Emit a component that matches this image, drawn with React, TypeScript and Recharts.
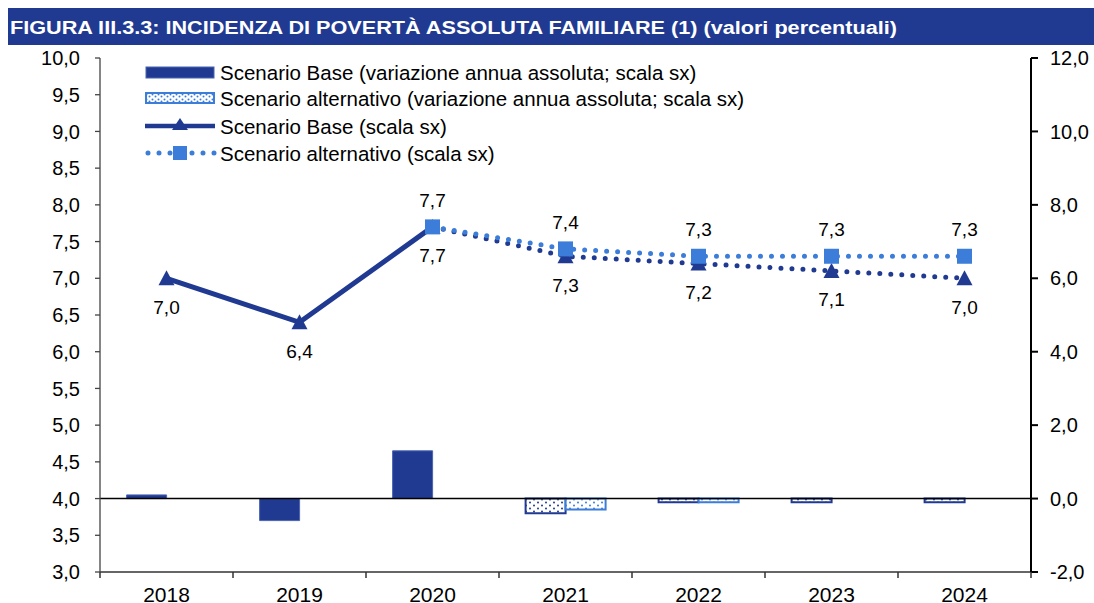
import React from 'react';
import {
    ComposedChart,
    Bar,
    Line,
    XAxis,
    YAxis,
    ReferenceLine,
    LabelList,
    Legend,
    Cell
} from 'recharts';

const years = ['2018', '2019', '2020', '2021', '2022', '2023', '2024'];
const baseLevel = [7.0, 6.4, 7.7, 7.3, 7.2, 7.1, 7.0];
const altLevel = [null, null, 7.7, 7.4, 7.3, 7.3, 7.3];
const baseChange = [0.1, -0.6, 1.3, -0.4, -0.1, -0.1, -0.1];
const altChange = [null, null, null, -0.3, -0.1, 0, 0];
const lastActual = 2; // 2020: after this the series are projections
const leftTicks = [3, 3.5, 4, 4.5, 5, 5.5, 6, 6.5, 7, 7.5, 8, 8.5, 9, 9.5, 10];
const rightTicks = [-2, 0, 2, 4, 6, 8, 10, 12];
const legendLabels = [
    'Scenario Base (variazione annua assoluta; scala sx)',
    'Scenario alternativo (variazione annua assoluta; scala sx)',
    'Scenario Base (scala sx)',
    'Scenario alternativo (scala sx)'
];
const title = 'FIGURA III.3.3: INCIDENZA DI POVERTÀ ASSOLUTA FAMILIARE (1) (valori percentuali)';

const DARK = '#203A92';
const LIGHT = '#3B7DD8';
const FONT = '"Liberation Sans", Arial, sans-serif';

const W = 1086;
const H = 558;
const LEFT_W = 92;
const RIGHT_W = 63;
const BAND = (W - LEFT_W - RIGHT_W) / years.length;

const data = years.map((year, i) => ({
    year,
    baseLevel: baseLevel[i],
    baseHist: i <= lastActual ? baseLevel[i] : null,
    baseProj: i >= lastActual ? baseLevel[i] : null,
    altLevel: altLevel[i],
    baseChange: baseChange[i],
    altChange: altChange[i]
}));

const comma = (v: any) => (v == null ? '' : Number(v).toFixed(1).replace('.', ','));

const XTick = (props: any) => {
    const { x, y, payload, index } = props;
    const half = BAND / 2;
    return (
        <g>
            <line x1={x - half} x2={x - half} y1={y} y2={y + 6} stroke="#333" strokeWidth={1.5} />
            {index === years.length - 1 && (
                <line x1={x + half} x2={x + half} y1={y} y2={y + 6} stroke="#333" strokeWidth={1.5} />
            )}
            <text x={x} y={y + 14} dy="0.75em" textAnchor="middle" fontSize={21} fill="#000" fontFamily={FONT}>
                {payload.value}
            </text>
        </g>
    );
};

const Triangle = (props: any) => {
    const { cx, cy } = props;
    if (cx == null || cy == null) return null;
    return <polygon points={`${cx},${cy - 8} ${cx - 8},${cy + 7} ${cx + 8},${cy + 7}`} fill={DARK} />;
};

const Square = (props: any) => {
    const { cx, cy } = props;
    if (cx == null || cy == null) return null;
    return <rect x={cx - 7.5} y={cy - 7.5} width={15} height={15} fill={LIGHT} />;
};

const LegendBox = () => (
    <svg width={640} height={120} style={{ fontFamily: FONT }}>
        <defs>
            <pattern id="dotsLightLeg" width={6} height={5} patternUnits="userSpaceOnUse">
                <rect width={6} height={5} fill="#fff" />
                <circle cx={1.5} cy={1.5} r={1} fill={LIGHT} />
                <circle cx={4.5} cy={3.5} r={1} fill={LIGHT} />
            </pattern>
        </defs>
        <rect x={1} y={9} width={68} height={11} fill={DARK} stroke="#4a64b0" />
        <rect x={1} y={35} width={68} height={10} fill="url(#dotsLightLeg)" stroke={LIGHT} strokeWidth={2} />
        <line x1={0} x2={70} y1={68} y2={68} stroke={DARK} strokeWidth={4.5} />
        <polygon points="35,60 27,72 43,72" fill={DARK} />
        <line x1={3} x2={70} y1={95} y2={95} stroke={LIGHT} strokeWidth={5} strokeDasharray="0 11" strokeLinecap="round" />
        <rect x={28} y={88} width={14} height={14} fill={LIGHT} />
        {legendLabels.map((label, i) => (
            <text key={label} x={75} y={[14, 40, 68, 95][i]} dominantBaseline="central" fontSize={20.5} fill="#000">
                {label}
            </text>
        ))}
    </svg>
);

export default function App() {
    return (
        <div
            style={{
                position: 'fixed',
                top: 8,
                left: 8,
                width: W,
                height: 595,
                overflow: 'hidden',
                fontFamily: FONT,
                background: '#fff'
            }}
        >
            <svg width={W} height={37} style={{ display: 'block' }}>
                <rect width={W} height={37} fill={DARK} />
                <text
                    x={2}
                    y={25.5}
                    fill="#fff"
                    fontSize={18}
                    fontWeight={700}
                    fontFamily={FONT}
                    textLength={887}
                    lengthAdjust="spacingAndGlyphs"
                >
                    {title}
                </text>
            </svg>
            <ComposedChart
                width={W}
                height={H}
                data={data}
                margin={{ top: 13, right: 0, left: 0, bottom: 0 }}
                barCategoryGap="20%"
                barGap={0}
            >
                <defs>
                    <pattern id="dotsDark" width={8} height={6} patternUnits="userSpaceOnUse">
                        <rect width={8} height={6} fill="#fff" />
                        <circle cx={2} cy={1.5} r={1} fill={DARK} />
                        <circle cx={6} cy={4.5} r={1} fill={DARK} />
                    </pattern>
                    <pattern id="dotsLight" width={8} height={6} patternUnits="userSpaceOnUse">
                        <rect width={8} height={6} fill="#fff" />
                        <circle cx={2} cy={1.5} r={1} fill={LIGHT} />
                        <circle cx={6} cy={4.5} r={1} fill={LIGHT} />
                    </pattern>
                </defs>
                <XAxis
                    dataKey="year"
                    height={H - 13 - 514}
                    tickLine={false}
                    tickSize={0}
                    tickMargin={0}
                    interval={0}
                    tick={<XTick />}
                    stroke="#333"
                    strokeWidth={1.5}
                />
                <YAxis
                    yAxisId="left"
                    domain={[3, 10]}
                    ticks={leftTicks}
                    width={LEFT_W}
                    tickFormatter={comma}
                    tickSize={5}
                    tickMargin={15}
                    interval={0}
                    stroke="#444"
                    strokeWidth={1.3}
                    tick={{ fill: '#000', fontSize: 20, fontFamily: FONT }}
                />
                <YAxis
                    yAxisId="right"
                    orientation="right"
                    domain={[-2, 12]}
                    ticks={rightTicks}
                    width={RIGHT_W}
                    tickFormatter={comma}
                    tickSize={7}
                    tickMargin={12}
                    interval={0}
                    stroke="#000"
                    strokeWidth={2}
                    tick={{ fill: '#000', fontSize: 20, fontFamily: FONT }}
                />
                <Legend
                    layout="vertical"
                    align="center"
                    verticalAlign="middle"
                    content={() => <LegendBox />}
                    wrapperStyle={{ top: 13, left: 137, width: 640, height: 120 }}
                />
                <Bar yAxisId="right" dataKey="baseChange" isAnimationActive={false}>
                    {data.map((d, i) => (
                        <Cell
                            key={d.year}
                            fill={i <= lastActual ? DARK : 'url(#dotsDark)'}
                            stroke={i <= lastActual ? '#4a64b0' : DARK}
                            strokeWidth={i <= lastActual ? 1 : 2}
                        />
                    ))}
                </Bar>
                <Bar
                    yAxisId="right"
                    dataKey="altChange"
                    fill="url(#dotsLight)"
                    stroke={LIGHT}
                    strokeWidth={2}
                    isAnimationActive={false}
                />
                <ReferenceLine yAxisId="right" y={0} stroke="#000" strokeWidth={1.5} />
                <Line
                    yAxisId="left"
                    type="linear"
                    dataKey="baseHist"
                    stroke={DARK}
                    strokeWidth={5}
                    dot={false}
                    activeDot={false}
                    isAnimationActive={false}
                />
                <Line
                    yAxisId="left"
                    type="linear"
                    dataKey="baseProj"
                    stroke={DARK}
                    strokeWidth={5}
                    strokeDasharray="0 11"
                    strokeLinecap="round"
                    dot={false}
                    activeDot={false}
                    isAnimationActive={false}
                />
                <Line
                    yAxisId="left"
                    type="linear"
                    dataKey="baseLevel"
                    stroke="none"
                    dot={<Triangle />}
                    activeDot={false}
                    isAnimationActive={false}
                >
                    <LabelList
                        dataKey="baseLevel"
                        position="bottom"
                        offset={22}
                        formatter={comma}
                        fill="#000"
                        fontSize={19}
                        fontFamily={FONT}
                    />
                </Line>
                <Line
                    yAxisId="left"
                    type="linear"
                    dataKey="altLevel"
                    stroke={LIGHT}
                    strokeWidth={5}
                    strokeDasharray="0 11"
                    strokeLinecap="round"
                    dot={<Square />}
                    activeDot={false}
                    isAnimationActive={false}
                >
                    <LabelList
                        dataKey="altLevel"
                        position="top"
                        offset={20}
                        formatter={comma}
                        fill="#000"
                        fontSize={19}
                        fontFamily={FONT}
                    />
                </Line>
            </ComposedChart>
        </div>
    );
}
